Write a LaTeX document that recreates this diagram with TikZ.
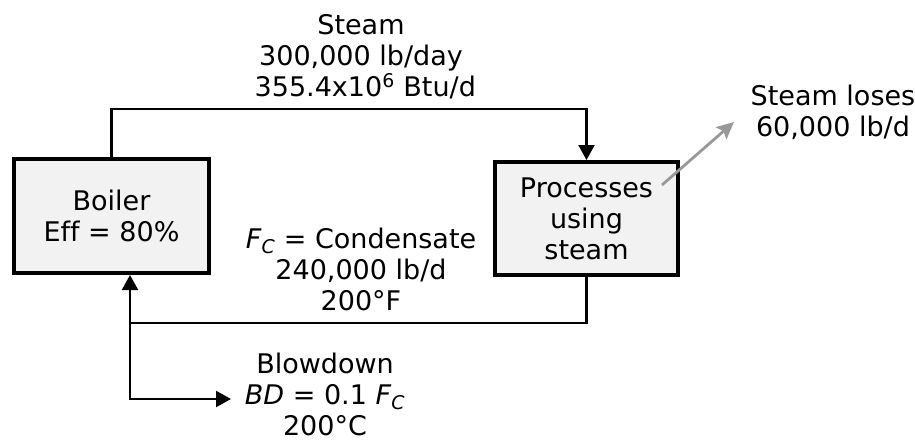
\documentclass[tikz,border=0pt]{standalone}
\usepackage{fontspec}
\setmainfont[Ligatures=NoCommon]{DejaVu Sans}
\usetikzlibrary{arrows.meta}
\begin{document}
\begin{tikzpicture}[x=1pt,y=-1pt,
  every node/.style={font=\fontsize{27}{31}\selectfont, align=center, inner sep=0pt},
  unitbox/.style={draw=black, line width=4pt, fill=black!5, rectangle},
  flow/.style={draw=black, line width=2.1pt, -{Triangle[length=15pt,width=16pt]}},
  lossflow/.style={draw=black!40, line width=2.8pt, -{Stealth[length=17pt,width=16pt,inset=3pt]}}]
\useasboundingbox (0,0) rectangle (915,439);
\node[unitbox, minimum width=195pt, minimum height=114pt] (boiler) at (111.5,216) {Boiler\\Eff = 80\%};
\node[unitbox, minimum width=183pt, minimum height=113pt] (proc) at (586.5,218.5) {Processes\\using\\steam};
\node (steamlbl) at (361,57) {Steam\\300,000 lb/day\\\ 355.4x10\textsuperscript{6} Btu/d};
\node (condlbl) at (361,269) {\textit{F}\textsubscript{\textit{C}} = Condensate\\240,000 lb/d\\200°F};
\node (bdlbl) at (325,394) {Blowdown\\\textit{BD} = 0.1 \textit{F}\textsubscript{\textit{C}}\\200°C};
\node (losslbl) at (833,112.5) {Steam loses\\60,000 lb/d};
\coordinate (toprow) at (0,109);
\coordinate (junc) at (130,323);
\coordinate (bdend) at (231,399);
\coordinate (g1) at (662,185);
\coordinate (g2) at (734,122);
\draw[flow] (boiler.north) -- (boiler.north |- toprow) -| (proc.north);
\draw[flow] (proc.south) |- (junc) -- (junc |- boiler.south);
\draw[flow] (junc) |- (bdend);
\draw[lossflow] (g1) -- (g2);
\end{tikzpicture}
\end{document}
